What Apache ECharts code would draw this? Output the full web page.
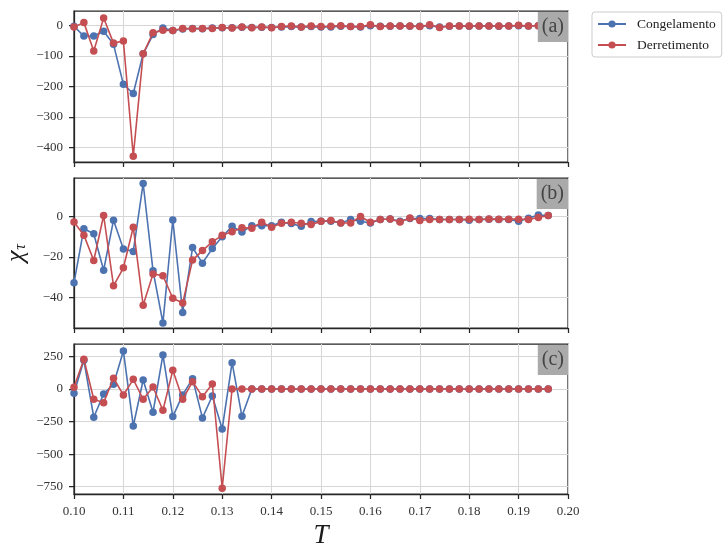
<!DOCTYPE html>
<html>
<head>
<meta charset="utf-8">
<script src="https://cdn.jsdelivr.net/npm/echarts@6/dist/echarts.min.js"></script>
<style>html,body{margin:0;padding:0;background:#fff}#c{width:727px;height:543px}</style>
</head>
<body>
<div id="c"></div>
<script>
const T = [0.100,0.102,0.104,0.106,0.108,0.110,0.112,0.114,0.116,0.118,
           0.120,0.122,0.124,0.126,0.128,0.130,0.132,0.134,0.136,0.138,
           0.140,0.142,0.144,0.146,0.148,0.150,0.152,0.154,0.156,0.158,
           0.160,0.162,0.164,0.166,0.168,0.170,0.172,0.174,0.176,0.178,
           0.180,0.182,0.184,0.186,0.188,0.190,0.192,0.194,0.196];

const congA = [-3,-35,-35,-19,-62,-193,-223,-93,-30,-9,
               -17,-12,-10,-11,-9,-8,-8,-6,-7,-6,
               -7,-5,-4,-5,-4,-5,-5,-3,-4,-5,
               -1,-3,-3,-2,-3,-3,-1,-5,-3,-2,
               -3,-2,-2,-3,-2,-1,-2,-1,-1];
const derrA = [-5,9,-84,24,-58,-51,-428,-93,-24,-16,
               -17,-10,-11,-10,-10,-7,-9,-5,-8,-5,
               -8,-4,-2,-5,-2,-4,-3,-1,-4,-4,
               2,-4,-2,-2,-2,-4,2,-7,-2,-2,
               -2,-2,-2,-2,-2,0,-2,-1,-1];

const congB = [-32.7,-6,-8.5,-26.5,-1.8,-16,-17.2,16.3,-26.8,-52.5,
               -1.7,-47.3,-15.3,-23,-15.8,-10,-4.8,-7.7,-4.5,-4.5,
               -4.5,-2.8,-3.5,-4.8,-2.5,-2.3,-2.3,-3.2,-1.5,-2.3,
               -3.2,-1.5,-1.2,-2.3,-1,-1,-1,-1.5,-1.5,-1.5,
               -1.8,-1.5,-1.3,-1.5,-1.5,-2.3,-0.8,0.7,0.5];
const derrB = [-2.7,-9.2,-21.7,0.5,-34.2,-25.3,-5.3,-43.8,-28.3,-29.2,
               -40.3,-42.7,-21.5,-16.8,-12.5,-9.3,-7.5,-5.5,-5.8,-2.8,
               -5.3,-3.3,-2.8,-3.3,-4,-2.3,-2,-3.2,-3.2,0,
               -2.8,-1.5,-1.2,-2.7,-0.7,-2,-1.5,-1.5,-1.5,-1.5,
               -1.3,-1.5,-1.2,-1.3,-1.3,-1.3,-1.5,-0.5,0.5];

const congC = [-33,220,-217,-38,36,291,-284,69,-179,261,
               -212,-46,79,-222,-54,-307,202,-210,0,0,
               0,0,0,0,0,0,0,0,0,0,
               0,0,0,0,0,0,0,0,0,0,
               0,0,0,0,0,0,0,0,0];
const derrC = [13,228,-79,-105,82,-46,74,-79,15,-163,
               143,-79,56,-59,38,-762,0,0,0,0,
               0,0,0,0,0,0,0,0,0,0,
               0,0,0,0,0,0,0,0,0,0,
               0,0,0,0,0,0,0,0,0];

const yTicksA = [-400,-300,-200,-100,0];
const yTicksB = [-40,-20,0];
const yTicksC = [-750,-500,-250,0,250];
const xTicks = [0.10,0.11,0.12,0.13,0.14,0.15,0.16,0.17,0.18,0.19,0.20];
const panelLabels = ['(a)','(b)','(c)'];
const seriesNames = ['Congelamento','Derretimento'];

const BLUE = '#4c72b0', RED = '#c44e52';
const FONT = 'Liberation Serif';
const DARK = '#262626';

const grids = [
  {left:74, right:159, top:11, height:151},
  {left:74, right:159, top:178, height:150},
  {left:74, right:159, top:344, height:150}
];
const yRanges = [[-447,47],[-55,19],[-806,345]];
const yTicks = [yTicksA, yTicksB, yTicksC];
const dataSets = [[congA, derrA],[congB, derrB],[congC, derrC]];

const fmtY = v => v < 0 ? '\u2212' + Math.abs(v) : String(v);

const xAxes = grids.map((g,i) => ({
  type:'value', gridIndex:i, min:0.10, max:0.20, interval:0.01,
  axisLine:{show:true, onZero:false, lineStyle:{color:DARK, width:1.25}},
  axisTick:{show:true, length:5, customValues:xTicks, lineStyle:{color:DARK, width:1.25}},
  axisLabel:{show:i===2, customValues:xTicks, formatter:v=>v.toFixed(2), fontFamily:FONT, fontSize:13, color:'#333', margin:11},
  splitLine:{show:true, lineStyle:{color:'#d6d6d6', width:1}},
  name: i===2 ? 'T' : '', nameLocation:'middle', nameGap:28,
  nameTextStyle:{fontFamily:FONT, fontStyle:'italic', fontSize:27, color:'#1a1a1a'}
}));

const yAxes = grids.map((g,i) => ({
  type:'value', gridIndex:i, min:yRanges[i][0], max:yRanges[i][1],
  axisLine:{show:true, onZero:false, lineStyle:{color:DARK, width:1.25}},
  axisTick:{show:true, length:5, customValues:yTicks[i], lineStyle:{color:DARK, width:1.25}},
  axisLabel:{show:true, customValues:yTicks[i], formatter:fmtY, fontFamily:FONT, fontSize:13, color:'#333', margin:11},
  splitLine:{show:true, lineStyle:{color:'#d6d6d6', width:1}},
  name: i===1 ? '{x|\u03c7}{s|\u03c4}' : '',
  nameLocation:'middle', nameRotate:90, nameGap:45,
  nameTextStyle:{rich:{
    x:{fontFamily:FONT, fontStyle:'italic', fontSize:26, color:'#1a1a1a'},
    s:{fontFamily:FONT, fontStyle:'italic', fontSize:16, color:'#1a1a1a', verticalAlign:'bottom', padding:[10,0,0,1]}
  }}
}));

const series = [];
dataSets.forEach((pair,i) => {
  pair.forEach((vals,k) => {
    series.push({
      type:'line', name:seriesNames[k], xAxisIndex:i, yAxisIndex:i,
      data: T.map((t,j)=>[t, vals[j]]),
      symbol:'circle', symbolSize:7.5, showSymbol:true,
      lineStyle:{width:1.6, color:k?RED:BLUE},
      itemStyle:{color:k?RED:BLUE},
      z: 2 + k, animation:false
    });
  });
});

const titleTops = [12, 179, 345];
const titles = panelLabels.map((txt,i) => ({
  text: txt, right: 159, top: titleTops[i],
  backgroundColor:'#aaaaaa', padding:[5,4,5,4],
  textStyle:{fontFamily:FONT, fontSize:20, fontWeight:'normal', color:'#444'}
}));

const chart = echarts.init(document.getElementById('c'), null, {renderer:'canvas'});
chart.setOption({
  animation:false,
  backgroundColor:'#ffffff',
  title: titles,
  grid: grids.map(g => Object.assign({show:true, containLabel:false, outerBoundsMode:'none', borderColor:DARK, borderWidth:1.25, backgroundColor:'transparent'}, g)),
  xAxis: xAxes,
  yAxis: yAxes,
  legend:{
    data: seriesNames, orient:'vertical', left:592, top:12,
    itemWidth:28, itemHeight:9, itemGap:7,
    padding:[5,6,5,5],
    borderColor:'#cccccc', borderWidth:1, borderRadius:3, backgroundColor:'#fff',
    textStyle:{fontFamily:FONT, fontSize:13.5, color:'#222', padding:[0,0,0,6]}
  },
  series: series
});
</script>
</body>
</html>
